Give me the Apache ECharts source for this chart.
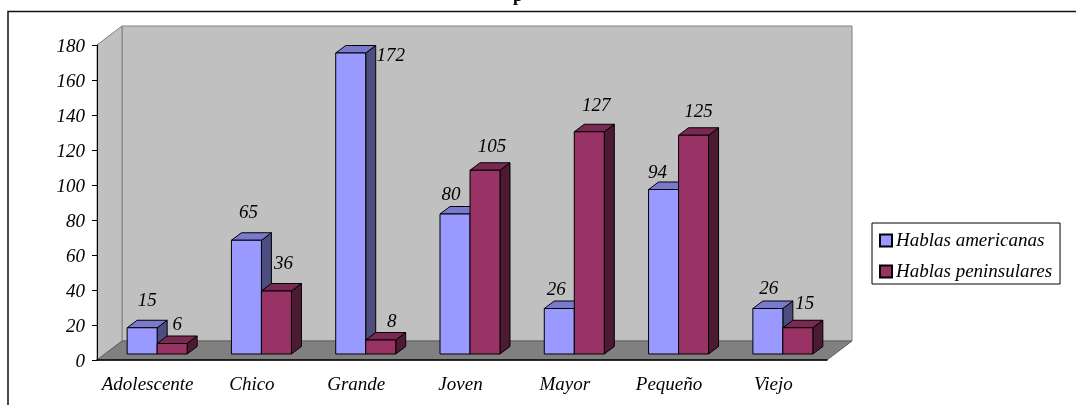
<!DOCTYPE html>
<html>
<head>
<meta charset="utf-8">
<style>html,body{margin:0;padding:0;background:#fff}#c{width:1076px;height:405px}</style>
<script src="https://cdn.jsdelivr.net/npm/echarts@6/dist/echarts.min.js"></script>
</head>
<body>
<div id="c"></div>
<script>
// Category and value tables
const categories = ['Adolescente', 'Chico', 'Grande', 'Joven', 'Mayor', 'Pequeño', 'Viejo'];
const hablasAmericanas = [15, 65, 172, 80, 26, 94, 26];
const hablasPeninsulares = [6, 36, 8, 105, 127, 125, 15];

// Hand placement of each value label relative to the top of its bar [dx, dy]
const labelNudgeAmericanas = [[5, -27], [2, -27], [40, 3], [-4, -19], [-3, -19], [-6, -17], [1, -20]];
const labelNudgePeninsulares = [[5, -19], [7, -27], [11, -18], [7, -23], [7, -26], [5, -23], [7, -24]];

// Pseudo-3D extrusion settings
const FONT = '"Liberation Serif", "Times New Roman", serif';
const WALL = { dx: 25, dy: -19 };
const BAR = { dx: 10, dy: -7.5, baseDx: 8, baseDy: -6, ratio: 30 / 104.3 };
const AMERICANAS = { front: '#9999ff', top: '#7a7acc', side: '#4d4d80' };
const PENINSULARES = { front: '#993366', top: '#7a2952', side: '#4d1a33' };

function poly(points, fill, stroke, lineWidth) {
  return {
    type: 'polygon',
    shape: { points },
    style: { fill, stroke, lineWidth }
  };
}

// Back wall, side wall and floor of the box, derived from the plot rectangle
function renderBox(params) {
  const c = params.coordSys;
  const l = c.x, r = c.x + c.width, t = c.y, b = c.y + c.height;
  const d = WALL;
  return {
    type: 'group',
    children: [
      poly([[l + d.dx, t + d.dy], [r + d.dx, t + d.dy], [r + d.dx, b + d.dy], [l + d.dx, b + d.dy]], '#c0c0c0', '#808080', 1),
      poly([[l, t], [l + d.dx, t + d.dy], [l + d.dx, b + d.dy], [l, b]], '#c0c0c0', '#808080', 1),
      poly([[l, b], [l + d.dx, b + d.dy], [r + d.dx, b + d.dy], [r, b]], '#808080', '#606060', 1)
    ]
  };
}

// One extruded column: side 0 sits left of the category centre, side 1 right of it
function barRenderer(side, colors, nudges) {
  return function (params, api) {
    const i = api.value(0);
    const v = api.value(1);
    const base = api.coord([i, 0]);
    const head = api.coord([i, v]);
    const w = api.size([1, 0])[0] * BAR.ratio;
    const x0 = base[0] + BAR.baseDx + (side === 0 ? -w : 0);
    const x1 = x0 + w;
    const yb = base[1] + BAR.baseDy;
    const yt = head[1] + BAR.baseDy;
    const n = nudges[params.dataIndex];
    return {
      type: 'group',
      children: [
        poly([[x1, yt], [x1 + BAR.dx, yt + BAR.dy], [x1 + BAR.dx, yb + BAR.dy], [x1, yb]], colors.side, '#000', 1),
        poly([[x0, yt], [x0 + BAR.dx, yt + BAR.dy], [x1 + BAR.dx, yt + BAR.dy], [x1, yt]], colors.top, '#000', 1),
        poly([[x0, yt], [x1, yt], [x1, yb], [x0, yb]], colors.front, '#000', 1),
        {
          type: 'text',
          z2: 10,
          style: {
            text: String(v),
            x: (x0 + x1) / 2 + n[0],
            y: yt + n[1],
            align: 'center',
            verticalAlign: 'middle',
            font: 'italic 19px ' + FONT,
            fill: '#000'
          }
        }
      ]
    };
  };
}

const labelFont = { fontFamily: FONT, fontStyle: 'italic', fontSize: 19, color: '#000' };

const chart = echarts.init(document.getElementById('c'), null, { renderer: 'canvas' });
chart.setOption({
  animation: false,
  backgroundColor: '#fff',
  textStyle: { fontFamily: FONT },
  grid: { left: 97, top: 45, width: 730, height: 315, containLabel: false },
  legend: {
    orient: 'vertical',
    left: 872,
    top: 223,
    padding: [8, 8, 3, 7],
    icon: 'rect',
    itemWidth: 12,
    itemHeight: 12,
    itemGap: 12,
    backgroundColor: '#fff',
    borderColor: '#000',
    borderWidth: 1,
    data: ['Hablas americanas', 'Hablas peninsulares'],
    textStyle: { ...labelFont, padding: [0, 0, 0, -1] }
  },
  xAxis: {
    type: 'category',
    data: categories,
    z: 3,
    axisLine: { lineStyle: { color: '#000', width: 1.5 } },
    axisTick: { alignWithLabel: false, length: 5, lineStyle: { color: '#000', width: 1 } },
    axisLabel: {
      margin: 15,
      interval: 0,
      ...labelFont,
      formatter: '{t|{value}}',
      rich: { t: { ...labelFont, padding: [0, 3, 0, 0] } }
    },
    splitLine: { show: false }
  },
  yAxis: {
    type: 'value',
    min: 0,
    max: 180,
    interval: 20,
    z: 3,
    axisLine: { show: true, lineStyle: { color: '#000', width: 1 } },
    axisTick: { show: true, length: 5, lineStyle: { color: '#000', width: 1 } },
    axisLabel: {
      margin: 12,
      ...labelFont,
      formatter: '{t|{value}}',
      rich: { t: { ...labelFont, padding: [4, 0, 0, 0] } }
    },
    splitLine: { show: false }
  },
  graphic: [
    // Outer frame, open on the right and at the bottom
    {
      type: 'polyline',
      silent: true,
      shape: { points: [[8, 405], [8, 11.5], [1076, 11.5]] },
      style: { stroke: '#111', lineWidth: 1.5, fill: null }
    },
    // Title line runs above the frame, only its descender stays on the page
    {
      type: 'text',
      silent: true,
      style: {
        text: 'p',
        x: 518,
        y: 5,
        align: 'center',
        verticalAlign: 'bottom',
        font: 'bold 18px ' + FONT,
        fill: '#000'
      }
    }
  ],
  series: [
    {
      type: 'custom',
      name: 'box',
      z: 1,
      silent: true,
      renderItem: renderBox,
      data: [0],
      encode: { x: 0 }
    },
    {
      type: 'custom',
      name: 'Hablas americanas',
      z: 4,
      itemStyle: { color: AMERICANAS.front, borderColor: '#000', borderWidth: 1 },
      renderItem: barRenderer(0, AMERICANAS, labelNudgeAmericanas),
      data: hablasAmericanas.map((v, i) => [i, v]),
      encode: { x: 0, y: 1 }
    },
    {
      type: 'custom',
      name: 'Hablas peninsulares',
      z: 4,
      itemStyle: { color: PENINSULARES.front, borderColor: '#000', borderWidth: 1 },
      renderItem: barRenderer(1, PENINSULARES, labelNudgePeninsulares),
      data: hablasPeninsulares.map((v, i) => [i, v]),
      encode: { x: 0, y: 1 }
    }
  ]
});
</script>
</body>
</html>
